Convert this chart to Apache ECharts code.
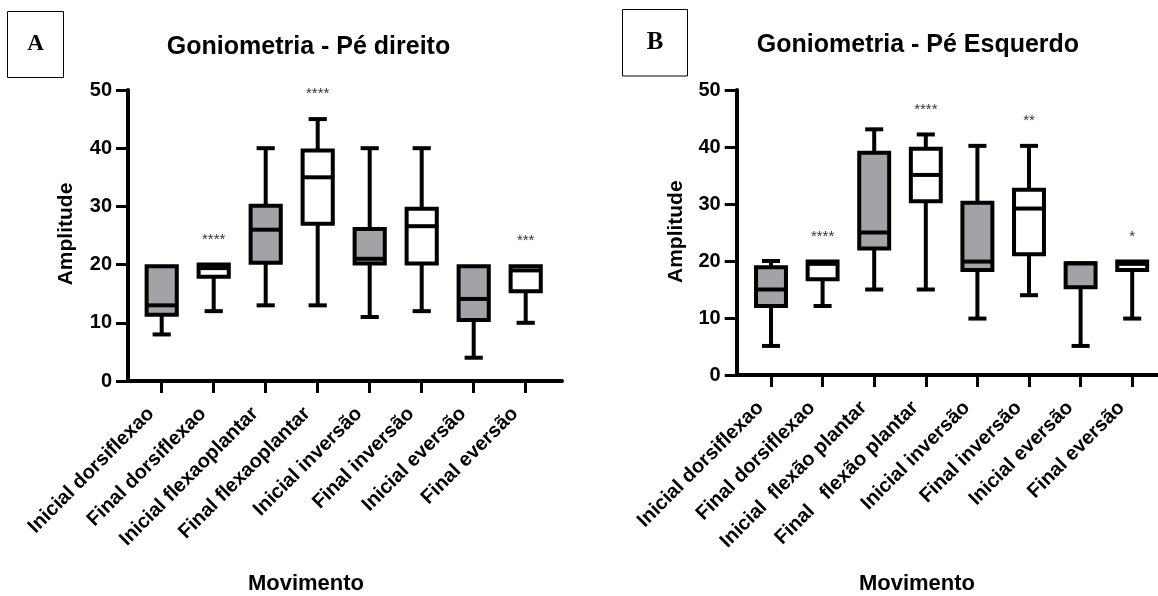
<!DOCTYPE html>
<html>
<head>
<meta charset="utf-8">
<script src="https://cdn.jsdelivr.net/npm/echarts@6/dist/echarts.min.js"></script>
<style>
  html, body { margin: 0; padding: 0; background: #fff; }
  #chart { width: 1158px; height: 596px; }
</style>
</head>
<body>
<div id="chart"></div>
<script>
// Right foot (Pé direito)
const categoriesA = ['Inicial dorsiflexao', 'Final dorsiflexao', 'Inicial flexaoplantar', 'Final flexaoplantar',
  'Inicial inversão', 'Final inversão', 'Inicial eversão', 'Final eversão'];
const minA    = [8,    12,   13,   13,   11,   12,   4,    10];
const q1A     = [11.4, 17.9, 20.3, 27,   20.2, 20.2, 10.5, 15.4];
const medianA = [13,   19.4, 26,   35,   21,   26.6, 14.1, 19];
const q3A     = [19.7, 20,   30.1, 39.6, 26.1, 29.6, 19.7, 19.7];
const maxA    = [19.7, 20,   40,   45,   40,   40,   19.7, 19.7];
const starsA  = ['', '****', '', '****', '', '', '', '***'];

// Left foot (Pé Esquerdo)
const categoriesB = ['Inicial dorsiflexao', 'Final dorsiflexao', 'Inicial  flexão plantar', 'Final   flexão plantar',
  'Inicial inversão', 'Final inversão', 'Inicial eversão', 'Final eversão'];
const minB    = [5.1,  12.1, 15,   15,   9.9,  14,   5.1,  9.9];
const q1B     = [12.1, 16.8, 22.2, 30.5, 18.4, 21.2, 15.4, 18.4];
const medianB = [15,   19.5, 25,   35.1, 19.9, 29.2, 19.6, 19.5];
const q3B     = [18.9, 19.9, 39,   39.7, 30.2, 32.5, 19.6, 19.9];
const maxB    = [20,   19.9, 43.1, 42.2, 40.2, 40.2, 19.6, 19.9];
const starsB  = ['', '****', '', '****', '', '**', '', '*'];

const yMin = 0, yMax = 50, yStep = 10;

const FONT = '"Liberation Sans", Arial, sans-serif';
const GRAY = '#a3a2a7';

function boxData(cats, mn, q1, md, q3, mx) {
  return cats.map((c, i) => [i, mn[i], q1[i], md[i], q3[i], mx[i]]);
}

// Draws one box-and-whisker per category plus its significance stars
function makeRenderer(cats, stars) {
  return function (params, api) {
    const i = api.value(0);
    const band = api.size([1, 0])[0];
    const boxW = band * 0.58;
    const capW = band * 0.35;
    const x = api.coord([i, api.value(3)])[0];
    const yLo = api.coord([i, api.value(1)])[1];
    const yQ1 = api.coord([i, api.value(2)])[1];
    const yMd = api.coord([i, api.value(3)])[1];
    const yQ3 = api.coord([i, api.value(4)])[1];
    const yHi = api.coord([i, api.value(5)])[1];
    const ls = { stroke: '#000', lineWidth: 4, fill: null };
    const children = [];
    if (yHi < yQ3 - 0.5) {
      children.push({ type: 'line', shape: { x1: x, y1: yQ3, x2: x, y2: yHi }, style: ls });
      children.push({ type: 'line', shape: { x1: x - capW / 2, y1: yHi, x2: x + capW / 2, y2: yHi }, style: ls });
    }
    if (yLo > yQ1 + 0.5) {
      children.push({ type: 'line', shape: { x1: x, y1: yQ1, x2: x, y2: yLo }, style: ls });
      children.push({ type: 'line', shape: { x1: x - capW / 2, y1: yLo, x2: x + capW / 2, y2: yLo }, style: ls });
    }
    const filled = cats[i].indexOf('Inicial') === 0;
    children.push({
      type: 'rect',
      shape: { x: x - boxW / 2, y: yQ3, width: boxW, height: yQ1 - yQ3 },
      style: { stroke: '#000', lineWidth: 4, fill: filled ? GRAY : '#fff' }
    });
    children.push({ type: 'line', shape: { x1: x - boxW / 2, y1: yMd, x2: x + boxW / 2, y2: yMd }, style: ls });
    if (stars[i]) {
      children.push({
        type: 'text',
        style: {
          text: stars[i], x: x, y: yHi - 25,
          font: '15px ' + FONT, fill: '#333',
          align: 'center', textAlign: 'center', verticalAlign: 'middle', textVerticalAlign: 'middle'
        }
      });
    }
    return { type: 'group', children: children };
  };
}

function frameX(g) {
  return {
    gridIndex: g, type: 'value', min: 0, max: 1,
    axisLine: { show: true, onZero: false, lineStyle: { color: '#000', width: 4 } },
    axisTick: { show: false }, axisLabel: { show: false }, splitLine: { show: false }
  };
}
function frameY(g) {
  return {
    gridIndex: g, type: 'value', min: yMin, max: yMax, interval: yStep,
    axisLine: { show: true, onZero: false, lineStyle: { color: '#000', width: 4 } },
    axisTick: { show: true, length: 12, lineStyle: { color: '#000', width: 3 } },
    axisLabel: { margin: 16, color: '#000', fontSize: 20, fontWeight: 'bold', fontFamily: FONT },
    splitLine: { show: false }
  };
}
function catX(g, cats) {
  return {
    gridIndex: g, type: 'category', data: cats, boundaryGap: true,
    axisLine: { show: false },
    axisTick: { show: true, alignWithLabel: true, length: 12, lineStyle: { color: '#000', width: 3 } },
    axisLabel: {
      rotate: 45, margin: 19, padding: [0, 15, 0, 0], interval: 0,
      color: '#000', fontSize: 20, fontWeight: 'bold', fontFamily: FONT
    },
    splitLine: { show: false }
  };
}
function hiddenY(g) {
  return { gridIndex: g, type: 'value', min: yMin, max: yMax, interval: yStep, show: false };
}

function txt(text, x, y, size, extra) {
  return Object.assign({
    type: 'text', x: x, y: y, silent: true,
    style: {
      text: text, font: 'bold ' + size + 'px ' + FONT, fill: '#000',
      align: 'center', textAlign: 'center', verticalAlign: 'middle', textVerticalAlign: 'middle'
    }
  }, extra || {});
}
function letterBox(letter, x, y, w, h, size) {
  return [
    { type: 'rect', shape: { x: x, y: y, width: w, height: h }, style: { stroke: '#000', lineWidth: 1, fill: null }, silent: true },
    {
      type: 'text', x: x + w / 2, y: y + h / 2, silent: true,
      style: {
        text: letter, font: 'bold ' + size + 'px "Liberation Serif", "Times New Roman", serif', fill: '#000',
        align: 'center', textAlign: 'center', verticalAlign: 'middle', textVerticalAlign: 'middle'
      }
    }
  ];
}

const chart = echarts.init(document.getElementById('chart'), null, { renderer: 'canvas' });
chart.setOption({
  animation: false,
  backgroundColor: '#fff',
  grid: [
    { left: 128, top: 90, width: 434, height: 291 },
    { left: 135.7, top: 90, width: 416, height: 291 },
    { left: 736.7, top: 90, width: 421.3, height: 285 },
    { left: 745.2, top: 90, width: 414, height: 285 }
  ],
  xAxis: [frameX(0), catX(1, categoriesA), frameX(2), catX(3, categoriesB)],
  yAxis: [frameY(0), hiddenY(1), frameY(2), hiddenY(3)],
  series: [
    {
      type: 'custom', xAxisIndex: 1, yAxisIndex: 1, clip: false,
      data: boxData(categoriesA, minA, q1A, medianA, q3A, maxA),
      renderItem: makeRenderer(categoriesA, starsA)
    },
    {
      type: 'custom', xAxisIndex: 3, yAxisIndex: 3, clip: false,
      data: boxData(categoriesB, minB, q1B, medianB, q3B, maxB),
      renderItem: makeRenderer(categoriesB, starsB)
    }
  ],
  graphic: [
    ...letterBox('A', 7.5, 11.5, 56, 66, 23),
    ...letterBox('B', 622.5, 9.5, 65, 66.5, 25),
    txt('Goniometria - Pé direito', 308.5, 47, 25),
    txt('Goniometria - Pé Esquerdo', 918, 45.5, 25),
    txt('Amplitude', 66.5, 234, 21, { rotation: Math.PI / 2 }),
    txt('Amplitude', 676.5, 231.7, 21, { rotation: Math.PI / 2 }),
    txt('Movimento', 306, 584, 22),
    txt('Movimento', 917, 584, 22)
  ]
});
</script>
</body>
</html>
